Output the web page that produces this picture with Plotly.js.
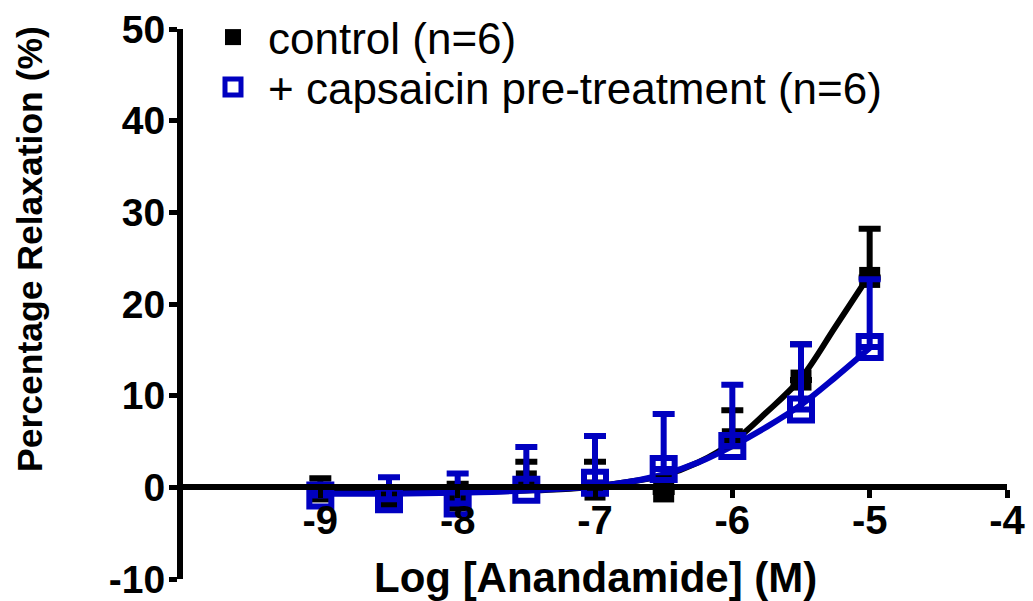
<!DOCTYPE html>
<html>
<head>
<meta charset="utf-8">
<script src="https://cdn.plot.ly/plotly-3.0.1.min.js"></script>
<style>html,body{margin:0;padding:0;background:#fff;}#chart{width:1033px;height:601px;}</style>
</head>
<body>
<div id="chart"></div>
<script>
// Log [Anandamide] (M)
const logConc = [-9, -8.5, -8, -7.5, -7, -6.5, -6, -5.5, -5];
// control (n=6): mean and SEM (upper bar)
const controlMean = [-0.5, -1.6, -1.5, 0.7, -0.3, -0.5, 5.3, 11.7, 22.9];
const controlSem  = [1.5, 1.6, 1.9, 2.1, 3.1, 1.5, 3.1, 3.9, 5.3];
// + capsaicin pre-treatment (n=6)
const capsMean = [-0.9, -1.3, -1.75, -0.25, 0.5, 2.0, 4.5, 8.5, 15.3];
const capsSem  = [0.5, 2.4, 3.25, 4.65, 5.1, 6.0, 6.7, 7.1, 7.4];
// fitted curves
const fitX = [-9, -8.75, -8.5, -8.25, -8, -7.75, -7.5, -7.25, -7, -6.75, -6.5, -6.25, -6, -5.75, -5.5, -5.25, -5];
const fitControl = [-0.6, -0.6, -0.6, -0.55, -0.5, -0.45, -0.35, -0.2, 0.1, 0.6, 1.3, 2.7, 4.9, 8.2, 11.9, 17.5, 23.2];
const fitCaps = [-0.7, -0.7, -0.7, -0.65, -0.6, -0.5, -0.35, -0.15, 0.1, 0.6, 1.4, 2.7, 4.5, 6.6, 9.0, 12.0, 15.2];
const xTicks = [-9, -8, -7, -6, -5, -4];
const yTicks = [-10, 0, 10, 20, 30, 40, 50];
const seriesNames = ['control (n=6)', '+ capsaicin pre-treatment (n=6)'];

const BLACK = '#000000';
const BLUE = '#0000c0';
const FONT = 'Liberation Sans, Arial, sans-serif';

const zeros = logConc.map(() => 0);

const traces = [
  {x: fitX, y: fitControl, mode: 'lines', line: {color: BLACK, width: 6, shape: 'spline'}, showlegend: false, hoverinfo: 'skip', cliponaxis: false},
  {x: fitX, y: fitCaps, mode: 'lines', line: {color: BLUE, width: 6, shape: 'spline'}, showlegend: false, hoverinfo: 'skip', cliponaxis: false},
  {x: logConc, y: controlMean, name: seriesNames[0], legend: 'legend', mode: 'markers', cliponaxis: false,
   marker: {symbol: 'square', size: 21, color: BLACK},
   error_y: {type: 'data', array: controlSem, arrayminus: zeros, symmetric: false, color: BLACK, thickness: 6, width: 11}},
  {x: logConc, y: capsMean, name: seriesNames[1], legend: 'legend2', mode: 'markers', cliponaxis: false,
   marker: {symbol: 'square-open', size: 22, color: BLUE, line: {color: BLUE, width: 6}},
   error_y: {type: 'data', array: capsSem, arrayminus: zeros, symmetric: false, color: BLUE, thickness: 6, width: 11}}
];

const legendBase = {xanchor: 'left', yanchor: 'top', bgcolor: 'rgba(0,0,0,0)', borderwidth: 0,
  itemwidth: 60, font: {family: FONT, size: 44, color: BLACK}};

const layout = {
  width: 1033, height: 601,
  margin: {l: 183, r: 26, t: 29, b: 22, pad: 0, autoexpand: false},
  paper_bgcolor: '#ffffff', plot_bgcolor: '#ffffff',
  showlegend: true,
  legend: Object.assign({}, legendBase, {x: 0.0182, y: 1.0491}),
  legend2: Object.assign({}, legendBase, {x: 0.0182, y: 0.9583}),
  xaxis: {range: [-10, -4], anchor: 'free', position: 1/6, showgrid: false, zeroline: false,
          showline: true, linecolor: BLACK, linewidth: 6,
          ticks: 'outside', ticklen: 8, tickwidth: 5, tickcolor: BLACK,
          ticklabelstandoff: -12,
          tickmode: 'array', tickvals: xTicks, ticktext: xTicks.map(String),
          tickfont: {family: FONT, size: 40, color: BLACK, weight: 'bold'}},
  yaxis: {range: [-10, 50], showgrid: false, zeroline: false,
          showline: true, linecolor: BLACK, linewidth: 6,
          ticks: 'outside', ticklen: 8, tickwidth: 5, tickcolor: BLACK,
          ticklabelstandoff: -4,
          tickmode: 'array', tickvals: yTicks, ticktext: yTicks.map(String),
          tickfont: {family: FONT, size: 39, color: BLACK, weight: 'bold'}},
  annotations: [
    {text: 'Percentage Relaxation (%)', xref: 'paper', yref: 'paper', x: -0.1857, y: 0.6,
     xanchor: 'center', yanchor: 'middle', textangle: -90, showarrow: false,
     font: {family: FONT, size: 35.5, color: BLACK, weight: 'bold'}},
    {text: 'Log [Anandamide] (M)', xref: 'paper', yref: 'paper', x: 0.5, y: 0.0036,
     xanchor: 'center', yanchor: 'middle', showarrow: false,
     font: {family: FONT, size: 42, color: BLACK, weight: 'bold'}}
  ]
};

Plotly.newPlot('chart', traces, layout, {displayModeBar: false, staticPlot: true});
</script>
</body>
</html>
